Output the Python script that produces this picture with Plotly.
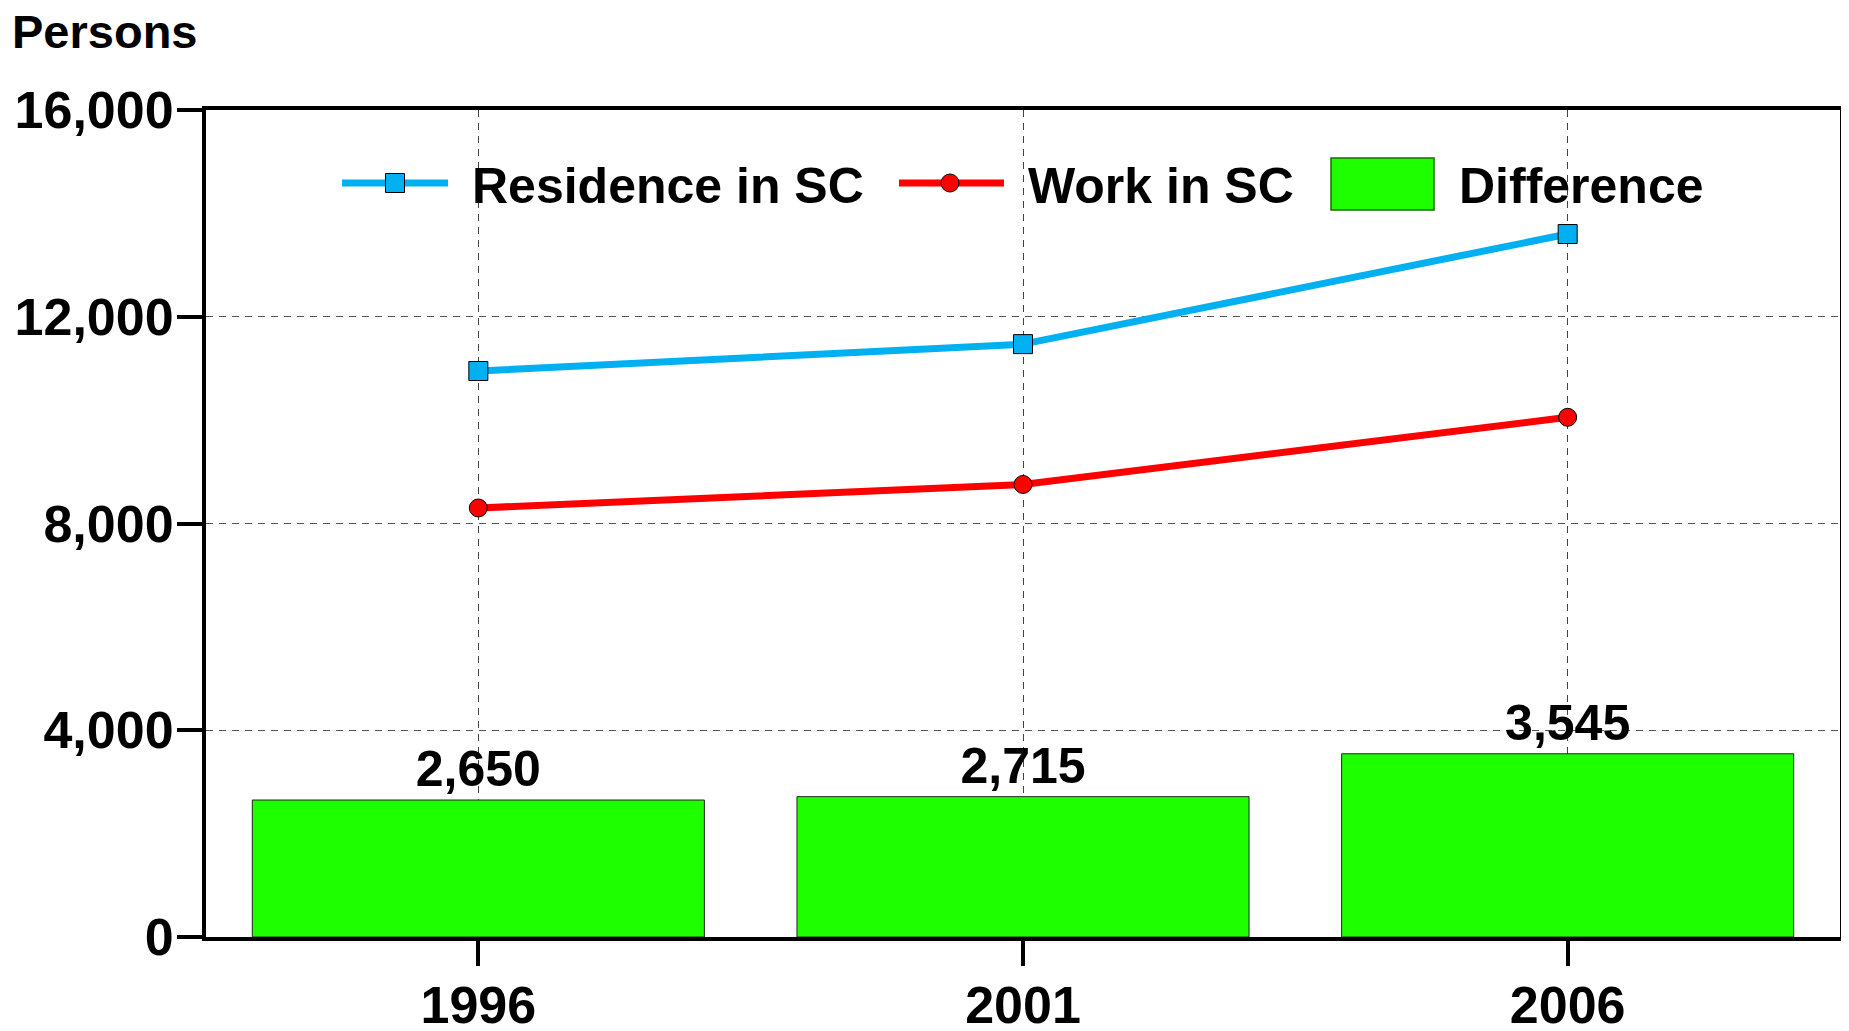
import plotly.graph_objects as go

years = ["1996", "2001", "2006"]
residence = [10950, 11470, 13600]
work = [8300, 8755, 10055]
difference = [2650, 2715, 3545]
y_ticks = [0, 4000, 8000, 12000, 16000]
y_tick_labels = ["0", "4,000", "8,000", "12,000", "16,000"]

# page body has an 8px default margin; design in screen pixels, then offset
OFF = 8
SW, SH = 1849, 1031
W, H = SW - OFF, SH - OFF
L, R, T, B = 206, 1840, 110, 937  # plot area in screen pixels
FONT = "Liberation Sans, Arial, Helvetica, sans-serif"
BLUE = "#00B0F0"
RED = "#FF0000"
GREEN = "#1EFF00"


def px(x):
    return (x - L) / (R - L)


def py(y):
    return (B - y) / (B - T)


fig = go.Figure()
fig.add_trace(go.Bar(
    x=years, y=difference, width=0.83,
    marker=dict(color=GREEN, line=dict(color="#222222", width=1)),
    texttemplate="%{y:,}", textposition="outside", cliponaxis=False,
    textfont=dict(family=FONT, size=50, color="black", weight="bold"),
    showlegend=False,
))
fig.add_trace(go.Scatter(
    x=years, y=residence, mode="lines+markers",
    line=dict(color=BLUE, width=7),
    marker=dict(symbol="square", size=19, color=BLUE, line=dict(color="black", width=1)),
    showlegend=False,
))
fig.add_trace(go.Scatter(
    x=years, y=work, mode="lines+markers",
    line=dict(color=RED, width=7),
    marker=dict(symbol="circle", size=18, color=RED, line=dict(color="black", width=1)),
    showlegend=False,
))

shapes = []
annotations = []
legend_y = 183
# Residence
shapes.append(dict(type="line", xref="paper", yref="paper", x0=px(342), x1=px(448),
                   y0=py(legend_y), y1=py(legend_y), line=dict(color=BLUE, width=7)))
shapes.append(dict(type="rect", xref="paper", yref="paper", x0=px(385.5), x1=px(404.5),
                   y0=py(legend_y - 9.5), y1=py(legend_y + 9.5), fillcolor=BLUE,
                   line=dict(color="black", width=1)))
# Work
shapes.append(dict(type="line", xref="paper", yref="paper", x0=px(899), x1=px(1004),
                   y0=py(legend_y), y1=py(legend_y), line=dict(color=RED, width=7)))
shapes.append(dict(type="circle", xref="paper", yref="paper", x0=px(941), x1=px(959),
                   y0=py(legend_y - 9), y1=py(legend_y + 9), fillcolor=RED,
                   line=dict(color="black", width=1)))
# Difference
shapes.append(dict(type="rect", xref="paper", yref="paper", x0=px(1331), x1=px(1434),
                   y0=py(158), y1=py(210), fillcolor=GREEN,
                   line=dict(color="#1a6b00", width=1.5)))

for label, xleft in [("Residence in SC", 470), ("Work in SC", 1026), ("Difference", 1457)]:
    annotations.append(dict(text=label, xref="paper", yref="paper", x=px(xleft), y=py(186),
                            xanchor="left", yanchor="middle", showarrow=False,
                            font=dict(family=FONT, size=50, color="black", weight="bold")))

annotations.append(dict(text="Persons", xref="paper", yref="paper", x=px(10), y=py(31),
                        xanchor="left", yanchor="middle", showarrow=False,
                        font=dict(family=FONT, size=47, color="black", weight="bold")))

fig.update_layout(
    width=W, height=H,
    margin=dict(l=L - OFF, r=W - (R - OFF), t=T - OFF, b=H - (B - OFF), pad=0, autoexpand=False),
    paper_bgcolor="white", plot_bgcolor="white",
    shapes=shapes, annotations=annotations,
)
fig.update_xaxes(
    type="category", range=[-0.5, 2.5], automargin=False,
    showline=True, linecolor="black", linewidth=4, mirror=True,
    ticks="outside", ticklen=25, tickwidth=4, tickcolor="black",
    ticklabelstandoff=-5,
    showgrid=True, gridcolor="#444444", gridwidth=1, griddash="7px,6px",
    tickfont=dict(family=FONT, size=52, color="black", weight="bold"),
)
fig.update_yaxes(
    range=[0, 16000], tickvals=y_ticks, ticktext=y_tick_labels, automargin=False,
    showline=True, linecolor="black", linewidth=4, mirror=True,
    ticks="outside", ticklen=25, tickwidth=4, tickcolor="black",
    ticklabelstandoff=-7,
    showgrid=True, gridcolor="#555555", gridwidth=1, griddash="7px,6px",
    zeroline=False,
    tickfont=dict(family=FONT, size=52, color="black", weight="bold"),
)

fig.write_html("out.html")
